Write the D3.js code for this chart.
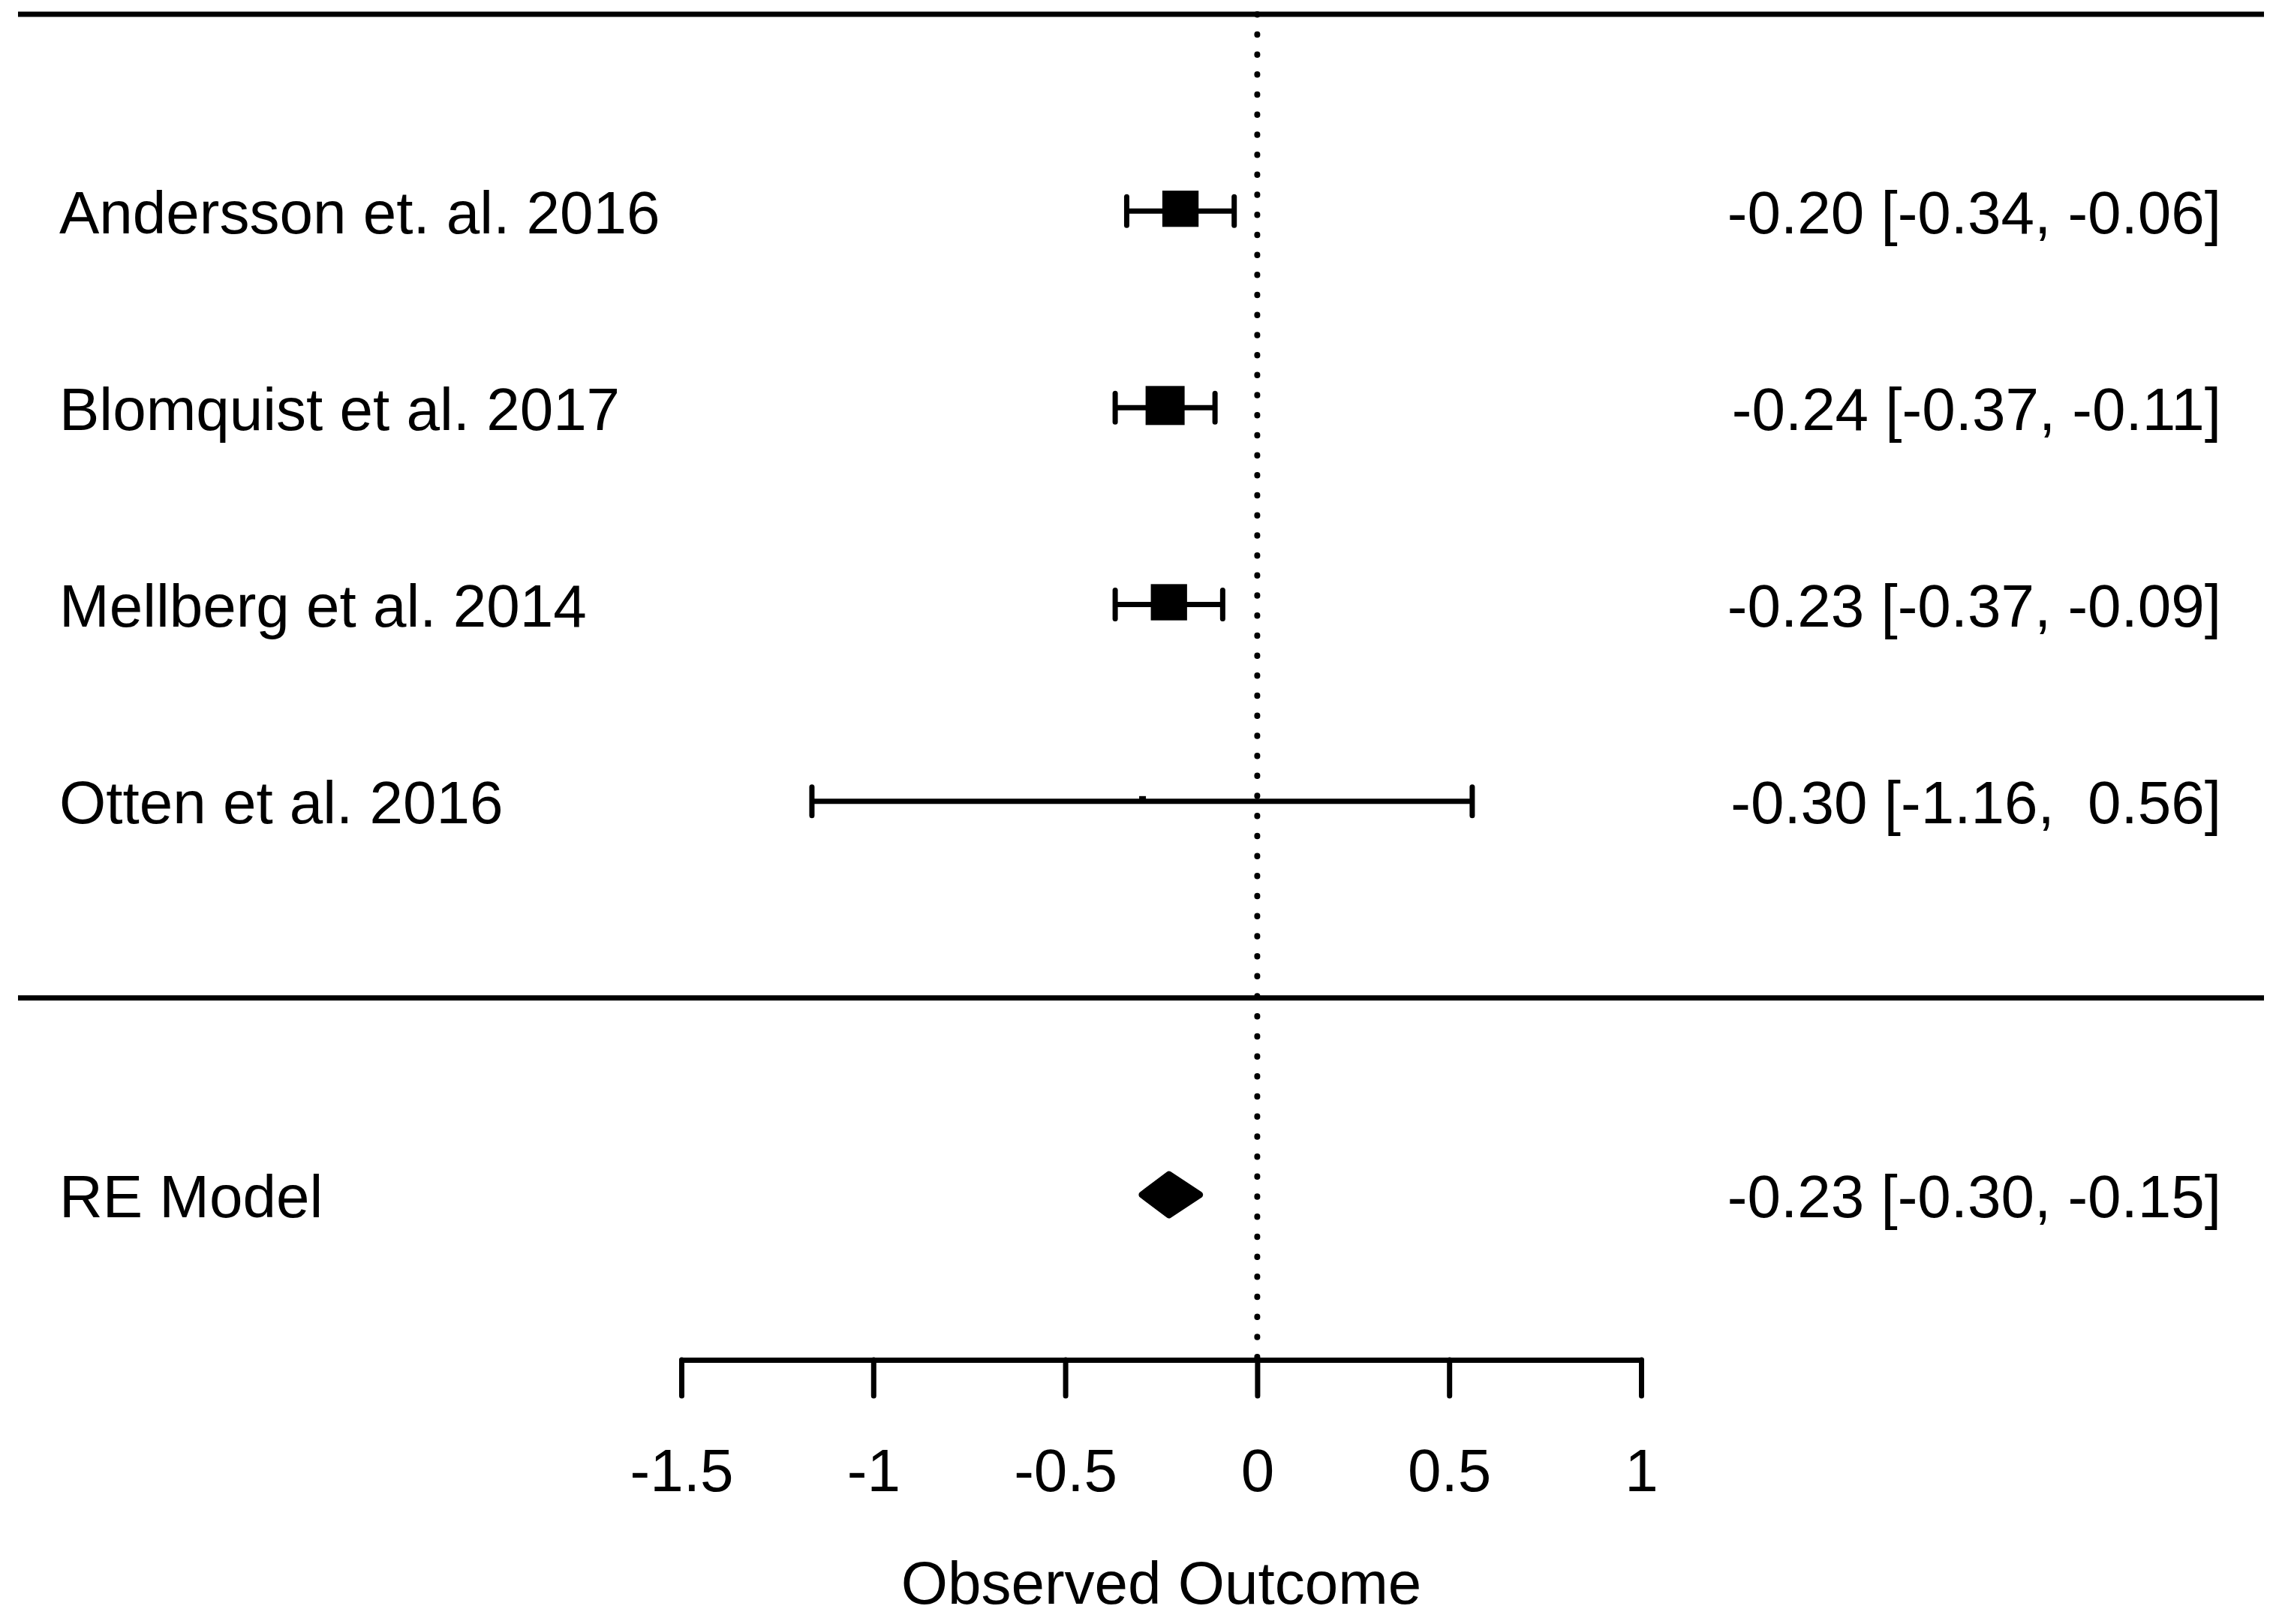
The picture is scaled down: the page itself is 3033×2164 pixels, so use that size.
<!DOCTYPE html>
<html>
<head>
<meta charset="utf-8">
<script src="https://cdn.jsdelivr.net/npm/d3@7"></script>
<style>
    body { margin: 0; background: #fff; }
    svg { display: block; }
    text { font-family: "Liberation Sans", Arial, sans-serif; fill: #000; white-space: pre; }
</style>
</head>
<body>
<svg id="chart"></svg>
<script>
// study rows, top to bottom
const studies = ["Andersson et. al. 2016", "Blomquist et al. 2017", "Mellberg et al. 2014", "Otten et al. 2016"];
const rows = [4, 3, 2, 1];
const estimates = [-0.20, -0.24, -0.23, -0.30];
const ciLower = [-0.34, -0.37, -0.37, -1.16];
const ciUpper = [-0.06, -0.11, -0.09, 0.56];
const weights = [31.4, 36.4, 31.4, 0.8];   // % weight, sets square size

// pooled estimate
const summaryLabel = "RE Model";
const summaryRow = -1;
const summaryEstimate = -0.23;
const summaryLower = -0.30;
const summaryUpper = -0.15;

const xTicks = [-1.5, -1, -0.5, 0, 0.5, 1];
const xLabel = "Observed Outcome";

const width = 3033, height = 2164;
const fontSize = 80;
const lw = 7;
const axisY = 1812;

const svg = d3.select("#chart")
    .attr("width", width)
    .attr("height", height);

const x = d3.scaleLinear().domain([-1.5, 1]).range([908, 2187]);
const y = d3.scaleLinear().domain([5, -1]).range([19, 1592]);
const size = d3.scaleSqrt().domain([0, d3.max(weights)]).range([0, 52]);

const data = studies.map((s, i) => ({
    study: s, row: rows[i], est: estimates[i], lo: ciLower[i], hi: ciUpper[i], w: weights[i]
}));

const num = v => v.toFixed(2).padStart(5, " ");
const ciText = (e, l, h) => `${num(e)} [${num(l)}, ${num(h)}]`;

// horizontal rules: top of plot and above the summary
svg.selectAll("line.rule")
    .data([5, 0])
    .join("line")
    .attr("class", "rule")
    .attr("x1", 24).attr("x2", 3017)
    .attr("y1", d => y(d)).attr("y2", d => y(d))
    .attr("stroke", "#000")
    .attr("stroke-width", lw);

// reference line at 0
svg.append("line")
    .attr("x1", x(0)).attr("x2", x(0))
    .attr("y1", y(5)).attr("y2", axisY)
    .attr("stroke", "#000")
    .attr("stroke-width", 8)
    .attr("stroke-linecap", "round")
    .attr("stroke-dasharray", "0.5 26.2");

// confidence intervals
const ci = svg.append("g");
ci.selectAll("line.ci")
    .data(data)
    .join("line")
    .attr("class", "ci")
    .attr("x1", d => x(d.lo)).attr("x2", d => x(d.hi))
    .attr("y1", d => y(d.row)).attr("y2", d => y(d.row))
    .attr("stroke", "#000")
    .attr("stroke-width", lw);

ci.selectAll("line.cap")
    .data(data.flatMap(d => [{v: d.lo, row: d.row}, {v: d.hi, row: d.row}]))
    .join("line")
    .attr("class", "cap")
    .attr("x1", d => x(d.v)).attr("x2", d => x(d.v))
    .attr("y1", d => y(d.row) - 19).attr("y2", d => y(d.row) + 19)
    .attr("stroke", "#000")
    .attr("stroke-width", lw)
    .attr("stroke-linecap", "round");

// point estimates (sit slightly above the interval line, as in the source)
svg.append("g").selectAll("rect")
    .data(data)
    .join("rect")
    .attr("x", d => x(d.est) - size(d.w) / 2)
    .attr("y", d => y(d.row) - 3 - size(d.w) / 2)
    .attr("width", d => Math.max(size(d.w), 9))
    .attr("height", d => size(d.w))
    .attr("fill", "#000");

// summary diamond
const sy = y(summaryRow);
svg.append("polygon")
    .attr("points", [
        [x(summaryLower), sy], [x(summaryEstimate), sy - 27],
        [x(summaryUpper), sy], [x(summaryEstimate), sy + 27]
    ].map(p => p.join(",")).join(" "))
    .attr("fill", "#000")
    .attr("stroke", "#000")
    .attr("stroke-width", 9)
    .attr("stroke-linejoin", "round");

// left labels
const labels = data.map(d => ({text: d.study, row: d.row}))
    .concat([{text: summaryLabel, row: summaryRow}]);
svg.append("g").selectAll("text")
    .data(labels)
    .join("text")
    .attr("x", 79)
    .attr("y", d => y(d.row))
    .attr("dy", "0.37em")
    .attr("font-size", fontSize)
    .text(d => d.text);

// right annotations
const notes = data.map(d => ({text: ciText(d.est, d.lo, d.hi), row: d.row}))
    .concat([{text: ciText(summaryEstimate, summaryLower, summaryUpper), row: summaryRow}]);
svg.append("g").selectAll("text")
    .data(notes)
    .join("text")
    .attr("x", 2960)
    .attr("y", d => y(d.row))
    .attr("dy", "0.37em")
    .attr("text-anchor", "end")
    .attr("font-size", fontSize)
    .text(d => d.text);

// x axis
const axis = svg.append("g")
    .attr("transform", `translate(0, ${axisY})`)
    .call(d3.axisBottom(x)
        .tickValues(xTicks)
        .tickFormat(d => String(d))
        .tickSize(48)
        .tickSizeOuter(0)
        .tickPadding(70));

axis.select(".domain")
    .attr("stroke", "#000")
    .attr("stroke-width", lw)
    .attr("stroke-linecap", "round");
axis.selectAll(".tick line")
    .attr("stroke", "#000")
    .attr("stroke-width", lw)
    .attr("stroke-linecap", "round");
axis.selectAll(".tick text")
    .attr("font-size", fontSize)
    .attr("font-family", "'Liberation Sans', Arial, sans-serif")
    .attr("fill", "#000");

svg.append("text")
    .attr("x", x((x.domain()[0] + x.domain()[1]) / 2))
    .attr("y", 2137)
    .attr("text-anchor", "middle")
    .attr("font-size", fontSize)
    .text(xLabel);
</script>
</body>
</html>
